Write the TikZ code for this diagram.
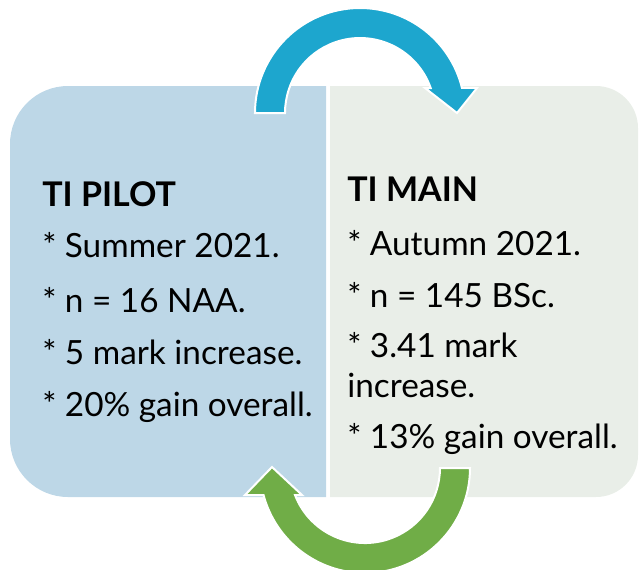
\documentclass[tikz,border=0pt]{standalone}
\usepackage{fontspec}
\setmainfont{Lato}
\definecolor{pilotfill}{HTML}{BDD7E7}
\definecolor{mainfill}{HTML}{E9EEE8}
\definecolor{cycleblue}{HTML}{1DA6CE}
\definecolor{cyclegreen}{HTML}{70AD47}
\begin{document}
\begin{tikzpicture}[x=0.75pt,y=-0.75pt,
  title/.style={anchor=base west,inner sep=0pt,font=\fontsize{25.5}{30}\selectfont\bfseries},
  item/.style={anchor=base west,inner sep=0pt,font=\fontsize{25}{30}\selectfont},
  cyclearrow/.style={draw=white,line width=1.5pt,line join=miter}]
\useasboundingbox (0,0) rectangle (639,569);
% two panels
\fill[pilotfill] (326,86) -- (68,86) arc[start angle=270,end angle=180,radius=58]
  -- (10,439) arc[start angle=180,end angle=90,radius=58] -- (326,497) -- cycle;
\fill[mainfill] (330,86) -- (596,86) arc[start angle=270,end angle=360,radius=42]
  -- (638,455) arc[start angle=0,end angle=90,radius=42] -- (330,497) -- cycle;
% cycle arrows
\filldraw[cyclearrow,fill=cycleblue] (255,113) arc[start angle=180,end angle=346.2,radius=105]
  -- (477,88) -- (457,113) -- (425,88) -- (430.7,88)
  arc[start angle=340.5,end angle=180,radius=75] -- cycle;
\filldraw[cyclearrow,fill=cyclegreen] (470,468) arc[start angle=0,end angle=165.1,radius=105]
  -- (245,495) -- (272,467) -- (302,495) -- (295,495)
  arc[start angle=158.9,end angle=0,radius=75] -- cycle;
% left panel text
\node[title] (pt) at (42,206) {TI PILOT};
\node[item] (p1) at (42,257) {* Summer 2021.};
\node[item] (p2) at (42,312) {* n = 16 NAA.};
\node[item] (p3) at (42,364) {* 5 mark increase.};
\node[item] (p4) at (42,416) {* 20\% gain overall.};
% right panel text
\node[title] (mt) at (347,201) {TI MAIN};
\node[item] (m1) at (347,255) {* Autumn 2021.};
\node[item] (m2) at (347,307) {* n = 145 BSc.};
\node[item] (m3) at (347,357) {* 3.41 mark};
\node[item] (m3b) at (347,397) {increase.};
\node[item] (m4) at (347,448) {* 13\% gain overall.};
\end{tikzpicture}
\end{document}
